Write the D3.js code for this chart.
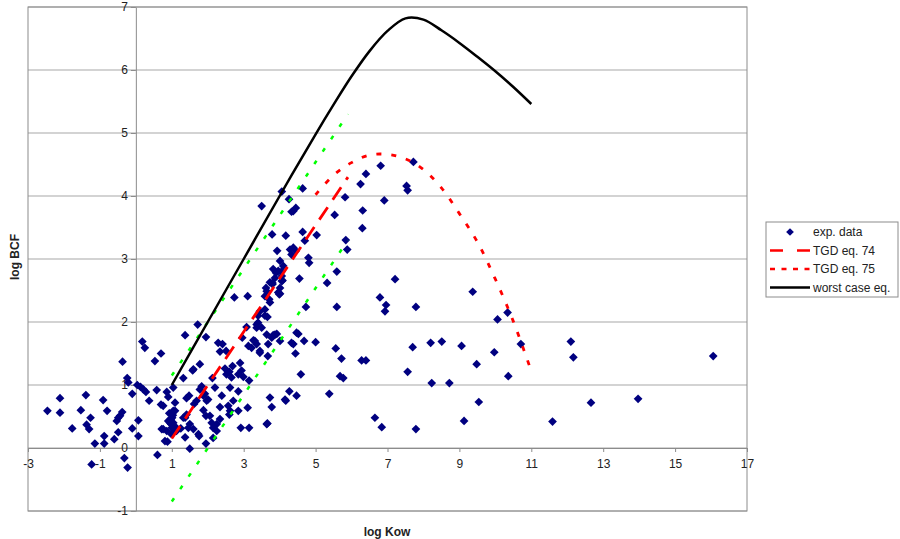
<html>
<head>
    <meta charset="utf-8">
    <script src="https://d3js.org/d3.v7.min.js"></script>
</head>
<body>
<div id="graph"></div>
<script>
    // axis ticks
    var xTicks = [-3, -1, 1, 3, 5, 7, 9, 11, 13, 15, 17];
    var yTicks = [-1, 0, 1, 2, 3, 4, 5, 6, 7];

    // experimental data: [log Kow, log BCF]
    var expPoints = [
        [-2.46,0.59],[-2.11,0.79],[-2.11,0.56],[-1.77,0.31],[-1.53,0.60],[-1.39,0.84],[-1.37,0.37],[-1.26,0.48],
        [-1.30,0.30],[-1.14,0.07],[-0.91,0.76],[-0.88,0.19],[-0.80,0.59],[-0.88,0.07],[-0.60,0.14],[-0.53,0.43],
        [-0.49,0.48],[-0.44,0.51],[-0.38,0.57],[-0.49,0.25],[-0.37,1.37],[-0.24,1.11],[-0.21,1.04],[-0.10,0.86],
        [-0.10,0.31],[0.07,0.44],[0.07,0.19],[-0.32,-0.16],[-0.23,-0.31],[-1.23,-0.26],[0.18,1.69],[0.25,1.59],
        [0.70,1.50],[0.53,1.38],[0.04,1.0],[0.13,0.97],[0.21,0.93],[0.28,0.89],[0.37,0.75],[0.58,0.92],
        [0.70,0.69],[0.76,0.67],[0.86,0.89],[0.90,0.81],[1.04,0.96],[0.60,-0.11],[0.88,0.10],[0.76,0.30],
        [0.90,0.43],[0.98,0.38],[1.01,0.48],[1.06,0.32],[1.04,0.59],[1.09,0.72],[1.13,0.27],[1.25,0.31],
        [1.37,0.48],[1.41,0.79],[1.48,0.83],[1.50,0.38],[1.60,0.30],[1.50,-0.01],[1.76,0.19],[1.69,0.75],
        [1.88,0.60],[1.95,0.51],[1.83,0.98],[1.92,0.86],[2.13,1.11],[2.11,0.40],[2.15,0.32],[1.32,1.11],
        [1.58,1.23],[1.78,1.33],[1.72,1.96],[1.37,1.79],[1.95,1.76],[2.29,1.67],
        [0.95,0.40],[1.04,0.40],[1.0,0.32],[0.86,0.27],[1.09,0.34],[0.81,0.11],[1.95,0.07],[0.72,0.30],
        [1.09,0.59],[1.32,0.48],[1.41,0.53],[1.37,0.17],[1.46,0.32],[1.74,0.22],[1.62,0.70],[1.78,0.93],
        [1.97,0.75],[2.25,0.27],[2.34,0.46],[2.15,0.16],[2.60,0.53],[2.71,0.75],[2.85,1.17],[3.22,1.59],
        [3.31,1.70],[3.45,1.51],[4.38,1.65],[0.97,0.45],[1.03,0.52],[0.93,0.55],[1.06,0.25],[0.99,0.22],
        [2.74,2.39],[3.11,2.41],[2.41,1.65],[2.34,1.53],[2.51,1.54],[1.60,1.25],[2.69,1.30],[2.60,1.21],
        [2.66,1.12],[2.48,1.26],[2.52,1.17],[2.90,1.35],[2.94,1.23],[3.15,1.07],[2.85,0.90],[2.62,0.96],
        [2.39,0.83],[2.34,0.65],[2.57,0.67],[2.62,0.59],[2.85,0.59],[3.11,0.64],[2.92,0.32],[3.15,0.32],
        [2.25,0.38],[2.06,0.51],[1.88,0.83],[2.20,0.96],[2.01,0.77],[3.45,2.17],[3.59,2.10],[3.40,1.99],
        [3.50,1.91],[3.36,1.91],[3.64,1.80],[3.87,1.80],[3.78,1.75],[3.27,1.71],[3.36,1.65],[3.13,1.62],
        [3.45,1.54],[3.68,1.65],[4.33,1.67],[4.47,1.83],[4.44,1.50],[3.73,2.63],[3.80,2.60],[4.06,2.65],
        [3.96,2.47],[3.59,2.20],[3.73,0.80],[4.15,0.77],[4.47,0.83],[4.27,0.90],[3.64,0.38],
        [3.59,2.41],[3.99,2.44],[3.73,2.31],[4.73,2.24],[5.59,2.24],[6.79,2.39],[6.96,2.27],[6.93,2.17],
        [7.79,2.24],[3.40,2.10],[3.66,2.08],[3.36,1.96],[3.08,1.92],[2.96,1.75],[3.82,1.79],[3.92,1.81],
        [4.52,1.81],[4.68,1.70],[5.0,1.68],[5.56,1.58],[5.72,1.42],[3.67,1.46],[4.01,1.70],[2.99,1.13],
        [4.59,1.17],[5.68,1.14],[5.77,1.11],[6.28,1.39],[6.40,1.39],[7.70,1.60],[7.56,1.21],[4.17,0.75],
        [3.78,0.65],[5.38,0.86],[3.66,0.39],[6.65,0.48],[6.84,0.33],[7.79,0.30],
        [9.37,2.48],[10.34,2.15],[10.06,2.04],[8.20,1.67],[8.51,1.69],[9.06,1.62],[9.97,1.52],[10.71,1.65],
        [9.48,1.33],[8.23,1.03],[8.72,1.03],[10.36,1.14],[9.54,0.73],[9.13,0.43],[12.10,1.69],[12.17,1.44],
        [11.59,0.42],[12.66,0.72],[13.97,0.78],[16.06,1.46],
        [7.72,4.54],[6.81,4.48],[6.40,4.35],[6.25,4.19],[7.53,4.16],[7.56,4.09],[6.91,3.93],[5.82,3.98],
        [6.31,3.77],[5.53,3.70],[6.30,3.49],[5.84,3.30],[5.88,3.15],[4.64,4.12],[4.06,4.07],[4.26,3.95],
        [4.45,3.81],[4.38,3.76],[4.33,3.75],[3.50,3.84],[4.64,3.43],[3.79,3.39],[4.17,3.37],[4.70,3.29],
        [3.93,3.13],[4.29,3.15],[4.38,3.18],[4.45,3.13],[4.33,3.07],[4.80,3.02],[4.82,2.94],[5.59,2.80],
        [5.32,2.62],[4.55,2.69],[7.21,2.68],[4.01,2.97],[4.10,2.89],[3.96,2.81],[3.82,2.84],[3.87,2.70],
        [4.06,2.73],[4.01,2.54],[3.62,2.54],[5.03,3.38],[4.08,2.66],[4.01,2.45],[3.64,2.49],[3.71,2.36],
        [3.80,2.62],[3.90,2.78],[4.05,2.80]
    ];

    // TGD eq. 74 and the +/- 1 log unit band around it (green)
    var eq74X = [1, 5.9];
    var eq74Y = [0.15, 4.3];
    var upperX = [1, 5.9];
    var upperY = [1.15, 5.3];
    var lowerX = [1, 5.9];
    var lowerY = [-0.85, 3.3];

    // TGD eq. 75
    var eq75X = [5, 5.5, 6, 6.5, 7, 7.5, 8, 8.5, 9, 9.5, 10, 10.5, 11];
    var eq75Y = [4.02, 4.33, 4.53, 4.65, 4.66, 4.59, 4.42, 4.13, 3.72, 3.27, 2.68, 2.01, 1.22];

    // worst case eq.
    var worstX = [1, 2, 3, 4, 5, 5.5, 6, 6.5, 7, 7.5, 8, 8.5, 9, 9.5, 10, 10.5, 11];
    var worstY = [1, 2, 3, 4, 4.98, 5.45, 5.9, 6.3, 6.62, 6.82, 6.8, 6.63, 6.43, 6.21, 5.98, 5.73, 5.46];

    var legendLabels = ["exp. data", "TGD eq. 74", "TGD eq. 75", "worst case eq."];

    var margin = {top: 7, right: 153, bottom: 28, left: 28},
        width = 900 - margin.left - margin.right,
        height = 539 - margin.top - margin.bottom;

    var svg = d3.select("#graph")
              .append("svg")
                .attr("width", 900)
                .attr("height", 539)
                .style("font-family", "'Liberation Sans', Arial, sans-serif");

    var g = svg.append("g")
                .attr("transform", "translate(" + margin.left + "," + margin.top + ")");

    var x = d3.scaleLinear().domain([-3, 17]).range([0, width]);
    var y = d3.scaleLinear().domain([-1, 7]).range([height, 0]);

    // gridlines
    g.selectAll(".grid")
        .data(yTicks)
        .enter()
        .append("line")
            .attr("x1", 0).attr("x2", width)
            .attr("y1", function(d){ return y(d) }).attr("y2", function(d){ return y(d) })
            .attr("stroke", "#c4c4c4")
            .attr("stroke-width", 1.4);

    // plot frame
    g.append("rect")
        .attr("width", width).attr("height", height)
        .attr("fill", "none")
        .attr("stroke", "#8c8c8c");

    function styleAxis(s) {
        s.select(".domain").attr("stroke", "#8c8c8c");
        s.selectAll(".tick line").attr("stroke", "#8c8c8c");
        s.selectAll(".tick text").attr("fill", "#222").attr("font-family", null).style("font-size", "12px");
    }

    // plain hyphen for negatives, like the original
    var fmt = function(d){ return String(d) };

    var xAxis = d3.axisBottom(x).tickValues(xTicks).tickFormat(fmt).tickSize(4).tickSizeOuter(0).tickPadding(7);
    g.append("g")
        .attr("transform", "translate(0," + y(0) + ")")
        .call(xAxis)
        .call(styleAxis);

    var yAxis = d3.axisLeft(y).tickValues(yTicks).tickFormat(fmt).tickSize(5).tickSizeOuter(0).tickPadding(3);
    g.append("g")
        .attr("transform", "translate(" + x(0) + ",0)")
        .call(yAxis)
        .call(styleAxis);

    // scatter
    var diamond = d3.symbol().type(d3.symbolSquare).size(38);
    g.selectAll(".pt")
        .data(expPoints)
        .enter()
        .append("path")
            .attr("d", diamond)
            .attr("transform", function(d){ return "translate(" + x(d[0]) + "," + y(d[1]) + ") rotate(45)" })
            .attr("fill", "#000080");

    function zipXY(xs, ys) {
        return xs.map(function(v, i){ return [v, ys[i]] });
    }

    var line = d3.line()
        .x(function(d){ return x(d[0]) })
        .y(function(d){ return y(d[1]) })
        .curve(d3.curveCatmullRom.alpha(0.5));

    function drawLine(data, color, w, dash) {
        g.append("path")
            .datum(data)
            .attr("d", line)
            .attr("fill", "none")
            .attr("stroke", color)
            .attr("stroke-width", w)
            .attr("stroke-linejoin", "round")
            .attr("stroke-dasharray", dash);
    }

    drawLine(zipXY(upperX, upperY), "#00ff00", 2.5, "4,11");
    drawLine(zipXY(lowerX, lowerY), "#00ff00", 2.5, "4,11");
    drawLine(zipXY(eq74X, eq74Y), "#ff0000", 2.8, "15,9");
    drawLine(zipXY(eq75X, eq75Y), "#ff0000", 2.8, "5,10");
    drawLine(zipXY(worstX, worstY), "#000000", 2.5, null);

    // legend
    var legend = svg.append("g").attr("transform", "translate(766,222)");
    legend.append("rect")
        .attr("width", 132).attr("height", 75)
        .attr("fill", "#fff").attr("stroke", "#8c8c8c");

    var rowY = [10, 28.5, 47, 65.5];
    legendLabels.forEach(function(lbl, i) {
        legend.append("text")
            .attr("x", 47).attr("y", rowY[i]).attr("dy", "0.35em")
            .style("font-size", "12px").attr("fill", "#222")
            .text(lbl);
    });
    legend.append("path")
        .attr("d", d3.symbol().type(d3.symbolSquare).size(30))
        .attr("transform", "translate(24," + rowY[0] + ") rotate(45)")
        .attr("fill", "#000080");
    var legendLines = [
        {row: 1, color: "#ff0000", dash: "13,14"},
        {row: 2, color: "#ff0000", dash: "5,6.5"},
        {row: 3, color: "#000000", dash: null}
    ];
    legendLines.forEach(function(l) {
        legend.append("line")
            .attr("x1", 4).attr("x2", 44)
            .attr("y1", rowY[l.row]).attr("y2", rowY[l.row])
            .attr("stroke", l.color).attr("stroke-width", 2.6)
            .attr("stroke-dasharray", l.dash);
    });

    // axis titles
    svg.append("text")
        .attr("transform", "translate(19,257) rotate(-90)")
        .attr("text-anchor", "middle")
        .style("font-size", "12px").style("font-weight", "bold").attr("fill", "#222")
        .text("log BCF");
    svg.append("text")
        .attr("x", 387).attr("y", 536)
        .attr("text-anchor", "middle")
        .style("font-size", "12px").style("font-weight", "bold").attr("fill", "#222")
        .text("log Kow");
</script>
</body>
</html>
<style>
    body{
        margin: 0;
    }
</style>
